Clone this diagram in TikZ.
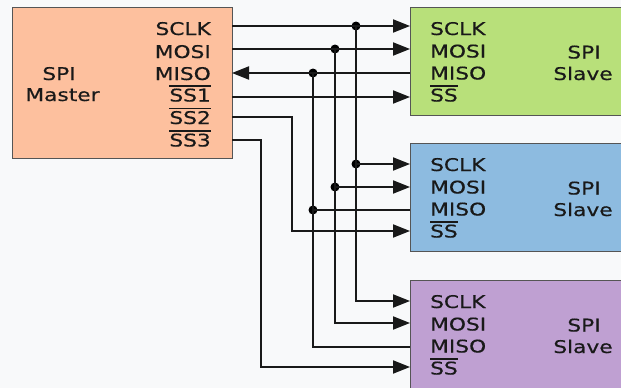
\documentclass[tikz,border=0pt]{standalone}
\usepackage{fontspec}
\setmainfont[FakeStretch=1.24,FakeBold=0.4]{DejaVu Sans}
\usetikzlibrary{arrows.meta}
\definecolor{bgc}{HTML}{F8F9FA}
\definecolor{masterc}{HTML}{FDC09E}
\definecolor{greenc}{HTML}{B8E07A}
\definecolor{bluec}{HTML}{8DBBE0}
\definecolor{purplec}{HTML}{BFA0D2}
\definecolor{edgec}{HTML}{555555}
\newcommand\ovl[1]{\vbox{\hrule height 1.4pt\kern 1.7pt\hbox{#1}}}
\tikzset{
  box/.style={draw=edgec, line width=1.2pt, inner sep=0pt, anchor=north west},
  pin/.style={inner sep=0pt, text=black!90},
  wire/.style={line width=1.9pt, draw=black!90},
  tip/.style={-{Triangle[length=17pt,width=13pt]}},
  dot/.style={circle, fill=black, inner sep=0pt, minimum size=9pt},
}
\begin{document}
\begin{tikzpicture}[x=1pt,y=-1pt,font=\fontsize{17.5}{21}\selectfont]
\useasboundingbox (0,0) rectangle (621,388);
\clip (0,0) rectangle (621,388);
\fill[bgc] (0,0) rectangle (621,388);
% boxes
\node[box, fill=masterc, minimum width=220pt, minimum height=151pt] (M) at (12,7) {};
\node[box, fill=greenc, minimum width=230pt, minimum height=108pt] (G) at (410,7) {};
\node[box, fill=bluec, minimum width=230pt, minimum height=108pt] (B) at (410,143) {};
\node[box, fill=purplec, minimum width=230pt, minimum height=108pt] (P) at (410,280) {};
% master texts
\node[pin, anchor=base] (mt1) at (59,80) {SPI};
\node[pin, anchor=base] (mt2) at (62.5,101) {Master};
\node[pin, anchor=base east] (ml1) at (211,35) {SCLK};
\node[pin, anchor=base east] (ml2) at (211,58) {MOSI};
\node[pin, anchor=base east] (ml3) at (211,80) {MISO};
\node[pin, anchor=base east] (ml4) at (211,101.5) {\ovl{SS1}};
\node[pin, anchor=base east] (ml5) at (211,124) {\ovl{SS2}};
\node[pin, anchor=base east] (ml6) at (211,146.5) {\ovl{SS3}};
% slave texts
\foreach \n/\t in {G/7, B/143, P/280}{
  \node[pin, anchor=base west] (\n l1) at (430,\t+28) {SCLK};
  \node[pin, anchor=base west] (\n l2) at (430,\t+50.5) {MOSI};
  \node[pin, anchor=base west] (\n l3) at (430,\t+72.5) {MISO};
  \node[pin, anchor=base west] (\n l4) at (430,\t+94.5) {\ovl{SS}};
  \node[pin, anchor=base] (\n s1) at (584,\t+51.5) {SPI};
  \node[pin, anchor=base] (\n s2) at (583,\t+73) {Slave};
}
% pin coordinates
\coordinate (mS) at (232,26);
\coordinate (mO) at (232,49);
\coordinate (mI) at (232,73);
\coordinate (m1) at (232,97);
\coordinate (m2) at (232,117);
\coordinate (m3) at (232,140);
\coordinate (gS) at (410,26);
\coordinate (gO) at (410,49);
\coordinate (gI) at (410,73);
\coordinate (gX) at (410,97);
\coordinate (bS) at (410,164);
\coordinate (bO) at (410,187);
\coordinate (bI) at (410,210);
\coordinate (bX) at (410,231);
\coordinate (pS) at (410,301);
\coordinate (pO) at (410,323);
\coordinate (pI) at (410,347);
\coordinate (pX) at (410,367);
\coordinate (k2) at (292,117);
\coordinate (k3) at (261,140);
% junction dots
\node[dot] (jS) at (356,26) {};
\node[dot] (jO) at (335,49) {};
\node[dot] (jI) at (313,73) {};
\node[dot] (jS2) at (356,164) {};
\node[dot] (jO2) at (335,187) {};
\node[dot] (jI2) at (313,210) {};
% wires
\draw[wire, tip] (mS) -- (gS);
\draw[wire, tip] (mO) -- (gO);
\draw[wire, tip] (gI) -- (mI);
\draw[wire, tip] (m1) -- (gX);
\draw[wire, tip] (jS.center) |- (pS);
\draw[wire, tip] (jO.center) |- (pO);
\draw[wire] (jI.center) |- (pI);
\draw[wire, tip] (jS2.center) -- (bS);
\draw[wire, tip] (jO2.center) -- (bO);
\draw[wire] (jI2.center) -- (bI);
\draw[wire, tip] (m2) -- (k2) |- (bX);
\draw[wire, tip] (m3) -- (k3) |- (pX);
\end{tikzpicture}
\end{document}
